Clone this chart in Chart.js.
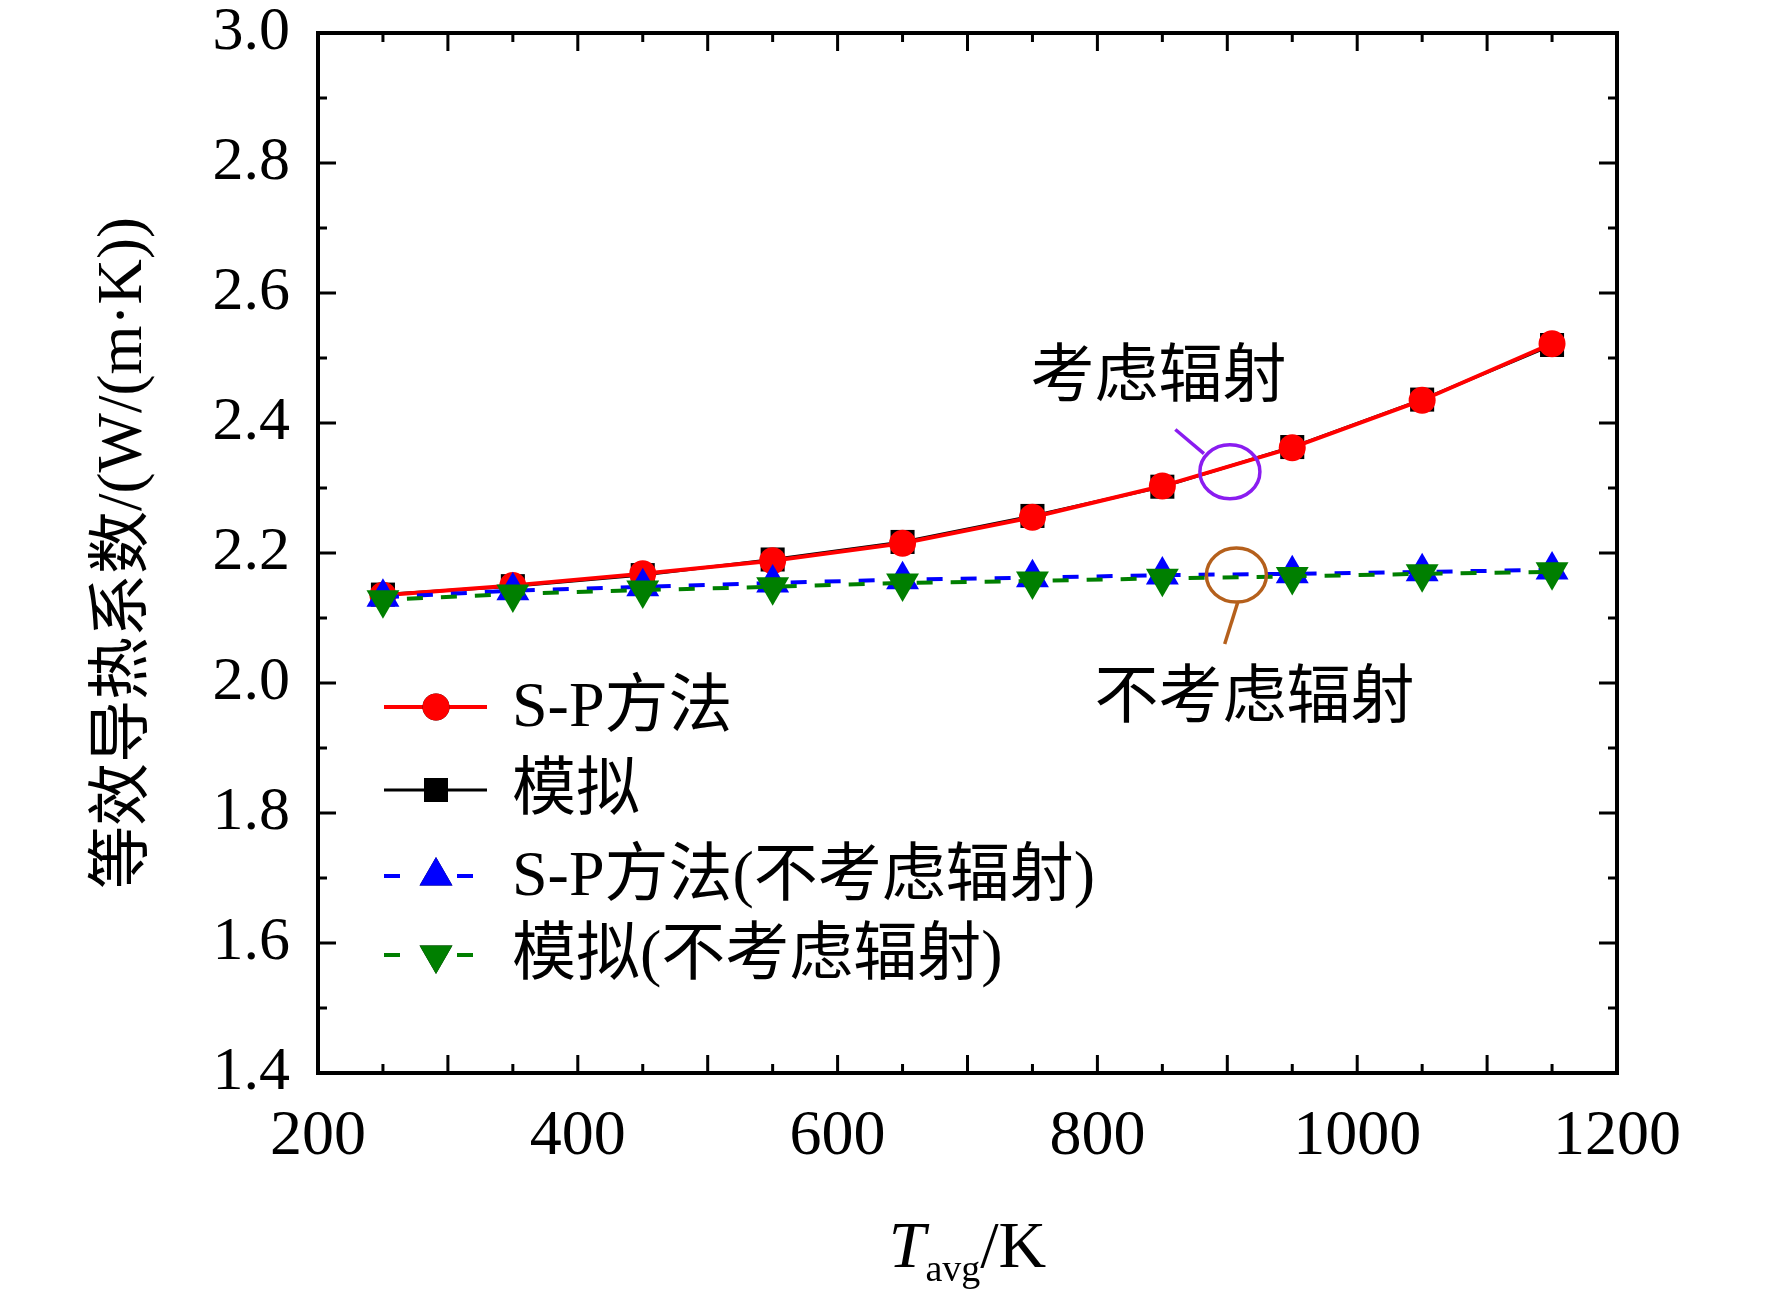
<!DOCTYPE html>
<html>
<head>
<meta charset="utf-8">
<script src="https://cdn.jsdelivr.net/npm/chart.js@4/dist/chart.umd.min.js"></script>
<style>
  html, body { margin: 0; padding: 0; background: #fff; }
  #wrap { width: 1772px; height: 1300px; }
</style>
</head>
<body>
<div id="wrap"><canvas id="chart" width="1772" height="1300"></canvas></div>
<script>
// values
var temps = [250, 350, 450, 550, 650, 750, 850, 950, 1050, 1150];
var spMethod = [2.135, 2.150, 2.168, 2.188, 2.215, 2.255, 2.303, 2.362, 2.435, 2.522];
var simulated = [2.136, 2.149, 2.166, 2.190, 2.217, 2.257, 2.302, 2.363, 2.436, 2.520];
var spNoRad = [2.132, 2.142, 2.148, 2.154, 2.159, 2.162, 2.166, 2.168, 2.171, 2.174];
var simNoRad = [2.128, 2.137, 2.143, 2.148, 2.154, 2.157, 2.161, 2.164, 2.168, 2.171];

var seriesNames = ["S-P方法", "模拟", "S-P方法(不考虑辐射)", "模拟(不考虑辐射)"];
var xLimits = [200, 1200];
var yLimits = [1.4, 3.0];
var xLabelStep = 200, xMajor = 100, xMinor = 50;
var yLabelStep = 0.2, yMinor = 0.1;

var SERIF = '"Liberation Serif", "Times New Roman", "Noto Sans CJK SC", serif';

function pts(ys) {
  return temps.map((t, i) => ({ x: t, y: ys[i] }));
}

var datasets = [
  { label: seriesNames[0], data: pts(spMethod), borderColor: "#ff0000", backgroundColor: "#ff0000",
    borderWidth: 4, pointStyle: "circle", pointRadius: 13.5, order: 2 },
  { label: seriesNames[1], data: pts(simulated), borderColor: "#000000", backgroundColor: "#000000",
    borderWidth: 3, pointStyle: "rect", pointRadius: 17, order: 3 },
  { label: seriesNames[2], data: pts(spNoRad), borderColor: "#0000ff", backgroundColor: "#0000ff",
    borderWidth: 4, borderDash: [16, 18], pointStyle: "triangle", pointRadius: 19, order: 1 },
  { label: seriesNames[3], data: pts(simNoRad), borderColor: "#007f00", backgroundColor: "#007f00",
    borderWidth: 4, borderDash: [16, 18], borderDashOffset: 10, pointStyle: "triangle", pointRotation: 180,
    pointRadius: 19, order: 0 }
];
datasets.forEach(d => { d.pointBorderWidth = 0; d.tension = 0; d.fill = false; });

// inward ticks + frame
var framePlugin = {
  id: "frame",
  afterDraw(chart) {
    var c = chart.ctx, a = chart.chartArea, xs = chart.scales.x, ys = chart.scales.y;
    c.save();
    c.strokeStyle = "#000";
    c.lineWidth = 3;
    for (var v = xLimits[0]; v <= xLimits[1] + 1e-6; v += xMinor) {
      var px = xs.getPixelForValue(v);
      var len = (Math.round(v) % xMajor === 0) ? 18 : 9;
      c.beginPath();
      c.moveTo(px, a.bottom); c.lineTo(px, a.bottom - len);
      c.moveTo(px, a.top); c.lineTo(px, a.top + len);
      c.stroke();
    }
    for (var k = 0; k <= Math.round((yLimits[1] - yLimits[0]) / yMinor); k++) {
      var val = yLimits[0] + k * yMinor;
      var py = ys.getPixelForValue(val);
      var l2 = (k % 2 === 0) ? 18 : 9;
      c.beginPath();
      c.moveTo(a.left, py); c.lineTo(a.left + l2, py);
      c.moveTo(a.right, py); c.lineTo(a.right - l2, py);
      c.stroke();
    }
    c.lineWidth = 4;
    c.strokeRect(a.left, a.top, a.right - a.left, a.bottom - a.top);

    // axis titles
    c.fillStyle = "#000";
    c.textBaseline = "alphabetic";
    c.font = "italic 66px " + SERIF;
    var wT = c.measureText("T").width;
    c.font = "38px " + SERIF;
    var wS = c.measureText("avg").width;
    c.font = "66px " + SERIF;
    var wK = c.measureText("/K").width;
    var x0 = (a.left + a.right) / 2 - (wT + wS + wK) / 2;
    c.textAlign = "left";
    c.font = "italic 66px " + SERIF;
    c.fillText("T", x0, 1267);
    c.font = "38px " + SERIF;
    c.fillText("avg", x0 + wT, 1281);
    c.font = "66px " + SERIF;
    c.fillText("/K", x0 + wT + wS, 1267);

    c.save();
    c.translate(124, (a.top + a.bottom) / 2);
    c.rotate(-Math.PI / 2);
    c.textAlign = "center";
    c.textBaseline = "middle";
    c.font = "63px " + SERIF;
    c.fillText("等效导热系数/(W/(m·K))", 0, 0);
    c.restore();
    c.restore();
  }
};

// legend drawn Origin-style: line + marker
var legendPlugin = {
  id: "originLegend",
  afterDraw(chart) {
    var c = chart.ctx;
    var rows = [707, 790, 876, 955];
    chart.data.datasets.forEach((d, i) => {
      var y = rows[i];
      c.save();
      c.strokeStyle = d.borderColor;
      c.lineWidth = d.borderWidth;
      if (d.borderDash) c.setLineDash([16, 57]);
      c.beginPath();
      c.moveTo(384, y); c.lineTo(487, y);
      c.stroke();
      c.setLineDash([]);
      Chart.helpers.drawPoint(c, {
        pointStyle: d.pointStyle, rotation: d.pointRotation || 0,
        radius: d.pointRadius, borderWidth: 0
      }, 436, y);
      c.fillStyle = d.backgroundColor;
      c.fill();
      c.fillStyle = "#000";
      c.font = "64px " + SERIF;
      c.textAlign = "left";
      c.textBaseline = "middle";
      c.fillText(d.label, 512, y + 2);
      c.restore();
    });
  }
};

// callouts placed in data coordinates
var notes = [
  { text: "考虑辐射", tx: 847, ty: 2.468, ex: 902, ey: 2.325, color: "#8a1cf0",
    lx1: 860, ly1: 2.39, lx2: 882, ly2: 2.353 },
  { text: "不考虑辐射", tx: 921, ty: 1.974, ex: 907, ey: 2.166, color: "#b5601c",
    lx1: 908, ly1: 2.124, lx2: 898, ly2: 2.06 }
];
var notePlugin = {
  id: "notes",
  afterDatasetsDraw(chart) {
    var c = chart.ctx, xs = chart.scales.x, ys = chart.scales.y;
    notes.forEach(n => {
      c.save();
      c.fillStyle = "#000";
      c.font = "64px " + SERIF;
      c.textAlign = "center";
      c.textBaseline = "middle";
      c.fillText(n.text, xs.getPixelForValue(n.tx), ys.getPixelForValue(n.ty));
      c.strokeStyle = n.color;
      c.lineWidth = 3.5;
      c.beginPath();
      c.ellipse(xs.getPixelForValue(n.ex), ys.getPixelForValue(n.ey), 30, 27, 0, 0, Math.PI * 2);
      c.stroke();
      c.beginPath();
      c.moveTo(xs.getPixelForValue(n.lx1), ys.getPixelForValue(n.ly1));
      c.lineTo(xs.getPixelForValue(n.lx2), ys.getPixelForValue(n.ly2));
      c.stroke();
      c.restore();
    });
  }
};

new Chart(document.getElementById("chart").getContext("2d"), {
  type: "line",
  data: { datasets: datasets },
  options: {
    responsive: false,
    animation: false,
    devicePixelRatio: 1,
    layout: { padding: { left: 0, top: 33, right: 155, bottom: 0 } },
    plugins: { legend: { display: false }, tooltip: { enabled: false } },
    scales: {
      x: {
        type: "linear", min: xLimits[0], max: xLimits[1],
        grid: { display: false, drawTicks: false }, border: { display: false },
        afterFit: s => { s.height = 227; s.paddingLeft = 0; s.paddingRight = 0; },
        ticks: { stepSize: xLabelStep, padding: 26, color: "#000",
          font: { family: SERIF, size: 64 }, maxRotation: 0,
          callback: v => String(v) }
      },
      y: {
        type: "linear", min: yLimits[0], max: yLimits[1],
        grid: { display: false, drawTicks: false }, border: { display: false },
        afterFit: s => { s.width = 318; s.paddingTop = 0; s.paddingBottom = 0; },
        ticks: { stepSize: yLabelStep, padding: 28, color: "#000",
          font: { family: SERIF, size: 62 },
          callback: v => Number(v).toFixed(1) }
      }
    }
  },
  plugins: [framePlugin, legendPlugin, notePlugin]
});
</script>
</body>
</html>
